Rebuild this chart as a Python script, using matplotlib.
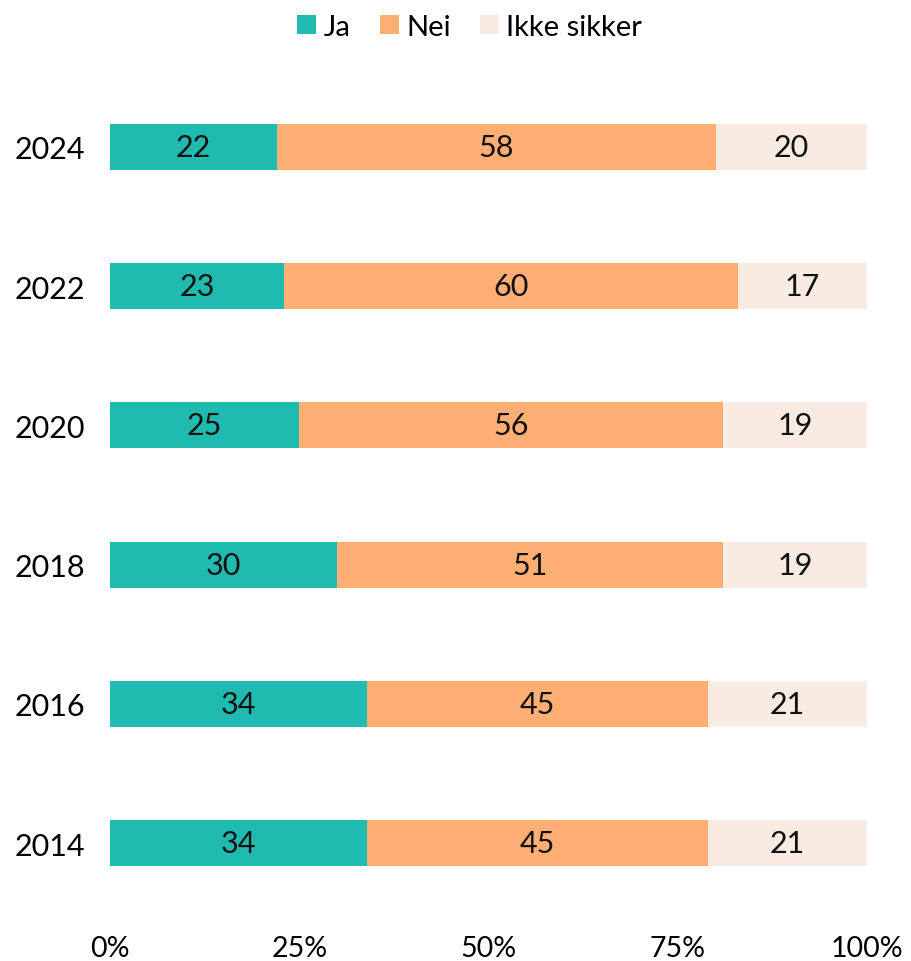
import matplotlib
matplotlib.use("Agg")
import matplotlib.pyplot as plt
import numpy as np

years = ['2014', '2016', '2018', '2020', '2022', '2024']
ja = [34, 34, 30, 25, 23, 22]
nei = [45, 45, 51, 56, 60, 58]
usikker = [21, 21, 19, 19, 17, 20]
series = ['Ja', 'Nei', 'Ikke sikker']
colors = ['#20bbb0', '#ffaf73', '#f8ece2']

plt.rcParams['font.family'] = ['Lato', 'DejaVu Sans']

fig = plt.figure(figsize=(9.12, 9.62), dpi=100)
ax = fig.add_axes([110 / 912, 1 - 913.6 / 962, (867 - 110) / 912, 835.2 / 962])

y = np.arange(len(years))
left = np.zeros(len(years))
handles = []
for vals, col, name in zip([ja, nei, usikker], colors, series):
    vals = np.array(vals)
    h = ax.barh(y, vals, left=left, height=0.33, color=col, label=name)
    handles.append(h)
    for yi, l, v in zip(y, left, vals):
        ax.text(l + v / 2, yi, str(v), ha='center', va='center', fontsize=22, color='#111111')
    left = left + vals

ax.set_xlim(0, 100)
ax.set_ylim(-0.5, 5.5)
ax.set_yticks(y)
ax.set_yticklabels(years, fontsize=22, va='center_baseline')
ax.set_xticks([0, 25, 50, 75, 100])
ax.set_xticklabels(['0%', '25%', '50%', '75%', '100%'], fontsize=20.5)
ax.tick_params(axis='y', length=0, pad=18)
ax.tick_params(axis='x', length=0, pad=16)
for s in ax.spines.values():
    s.set_visible(False)

fig.legend(handles=handles, labels=series, loc='upper center', bbox_to_anchor=(0.515, 1.012),
           ncol=3, frameon=False, fontsize=21, handlelength=0.65, handleheight=0.65,
           handletextpad=0.25, columnspacing=1.0)

fig.savefig('out.png', dpi=100)
